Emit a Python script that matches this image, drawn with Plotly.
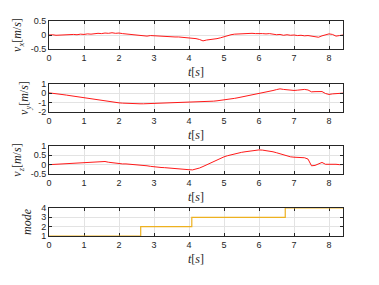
import plotly.graph_objects as go
from plotly.subplots import make_subplots

t = [round(i * 0.1, 1) for i in range(85)]

vx = [0.00, 0.01, -0.01, 0.00, 0.01, 0.00, 0.01, 0.02, 0.01, 0.03,
      0.02, 0.04, 0.03, 0.05, 0.06, 0.05, 0.07, 0.06, 0.08, 0.06,
      0.07, 0.05, 0.04, 0.03, 0.02, 0.01, 0.00, -0.01, -0.04, -0.02,
      -0.03, -0.04, -0.03, -0.05, -0.05, -0.06, -0.07, -0.07, -0.08, -0.09,
      -0.10, -0.11, -0.13, -0.16, -0.21, -0.18, -0.17, -0.15, -0.13, -0.10,
      -0.06, -0.02, 0.01, 0.03, 0.04, 0.04, 0.05, 0.05, 0.06, 0.05,
      0.06, 0.05, 0.04, 0.05, 0.03, 0.01, 0.02, -0.01, 0.01, -0.01,
      0.00, -0.02, -0.01, -0.03, -0.02, -0.04, -0.05, -0.08, -0.03, 0.00,
      0.04, 0.02, -0.04, -0.02, 0.00]

vy = [0.05, 0.02, -0.03, -0.08, -0.14, -0.19, -0.25, -0.31, -0.37, -0.43,
      -0.49, -0.55, -0.61, -0.67, -0.73, -0.78, -0.84, -0.89, -0.94, -0.98,
      -1.02, -1.05, -1.08, -1.10, -1.11, -1.12, -1.12, -1.12, -1.11, -1.11,
      -1.10, -1.09, -1.07, -1.06, -1.04, -1.02, -1.00, -0.99, -0.97, -0.96,
      -0.95, -0.94, -0.93, -0.92, -0.92, -0.90, -0.87, -0.84, -0.80, -0.76,
      -0.71, -0.66, -0.60, -0.54, -0.47, -0.40, -0.33, -0.26, -0.19, -0.12,
      -0.05, 0.03, 0.11, 0.20, 0.30, 0.40, 0.48, 0.42, 0.36, 0.33,
      0.31, 0.34, 0.38, 0.42, 0.36, 0.16, 0.18, 0.22, 0.19, -0.02,
      -0.12, -0.06, -0.02, 0.04, 0.02]

vz = [0.00, 0.01, 0.03, 0.04, 0.05, 0.07, 0.08, 0.09, 0.10, 0.12,
      0.12, 0.13, 0.13, 0.14, 0.14, 0.15, 0.17, 0.13, 0.10, 0.07,
      0.05, 0.04, 0.04, 0.03, 0.02, 0.01, -0.01, -0.03, -0.06, -0.09,
      -0.12, -0.14, -0.15, -0.16, -0.18, -0.19, -0.21, -0.22, -0.24, -0.25,
      -0.27, -0.28, -0.25, -0.18, -0.10, -0.01, 0.08, 0.17, 0.26, 0.34,
      0.42, 0.48, 0.53, 0.58, 0.62, 0.66, 0.69, 0.72, 0.75, 0.77,
      0.79, 0.78, 0.76, 0.73, 0.69, 0.64, 0.58, 0.52, 0.46, 0.42,
      0.40, 0.38, 0.39, 0.37, 0.30, -0.06, -0.04, 0.05, 0.12, 0.02,
      0.03, 0.01, 0.02, 0.00, 0.01]

mode_t = [0, 2.62, 4.08, 6.75, 8.4]
mode_v = [1, 2, 3, 4, 4]

y_titles = ["<i>v<sub>x</sub></i>[<i>m</i>/<i>s</i>]",
            "<i>v<sub>y</sub></i>[<i>m</i>/<i>s</i>]",
            "<i>v<sub>z</sub></i>[<i>m</i>/<i>s</i>]",
            "<i>mode</i>"]
y_ranges = [[-0.5, 0.5], [-2, 1], [-0.5, 1], [1, 4]]
y_ticks = [[-0.5, 0, 0.5], [-2, -1, 0, 1], [-0.5, 0, 0.5, 1], [1, 2, 3, 4]]
y_ticktext = [["-0.5", "0", "0.5"], ["-2", "-1", "0", "1"],
              ["-0.5", "0", "0.5", "1"], ["1", "2", "3", "4"]]
x_ticks = [0, 1, 2, 3, 4, 5, 6, 7, 8]

fig = make_subplots(rows=4, cols=1)
domains = [[187/215, 1.0], [124/215, 152/215], [62/215, 90/215], [0.0, 28/215]]

red = "#ff0000"
orange = "#EDB120"
for i, ys in enumerate([vx, vy, vz]):
    fig.add_trace(go.Scatter(x=t, y=ys, mode="lines",
                             line=dict(color=red, width=0.9),
                             showlegend=False), row=i + 1, col=1)
fig.add_trace(go.Scatter(x=mode_t, y=mode_v, mode="lines", line_shape="hv",
                         line=dict(color=orange, width=1.2),
                         showlegend=False), row=4, col=1)

axcol = "#262626"
tickfont = dict(family="Liberation Sans, Arial", size=9, color=axcol)
titlefont = dict(family="Liberation Serif, Times New Roman, serif", size=12, color=axcol)
for i in range(4):
    r = i + 1
    fig.update_xaxes(row=r, col=1, range=[0, 8.4], tickvals=x_ticks,
                     showline=True, linecolor=axcol, linewidth=1, mirror="ticks",
                     ticks="inside", ticklen=3, tickcolor=axcol,
                     showgrid=True, gridcolor="#e3e3e3", gridwidth=1,
                     zeroline=False, tickfont=tickfont, automargin=False,
                     title=dict(text="<i>t</i>[<i>s</i>]", font=titlefont, standoff=5),
                     layer="below traces" if i == 3 else "above traces")
    fig.update_yaxes(row=r, col=1, range=y_ranges[i], tickvals=y_ticks[i],
                     ticktext=y_ticktext[i], domain=domains[i],
                     showline=True, linecolor=axcol, linewidth=1, mirror="ticks",
                     ticks="inside", ticklen=3, tickcolor=axcol,
                     showgrid=True, gridcolor="#e3e3e3", gridwidth=1,
                     zeroline=False, tickfont=tickfont, automargin=False,
                     title=dict(text=y_titles[i], font=titlefont, standoff=6),
                     layer="below traces" if i == 3 else "above traces")

fig.update_layout(width=379, height=285,
                  margin=dict(l=49, r=36, t=21, b=49),
                  paper_bgcolor="white", plot_bgcolor="white")

fig.write_html("out.html", config={"displayModeBar": False},
               post_script="document.body.style.margin='0px';document.body.style.padding='0px';")
